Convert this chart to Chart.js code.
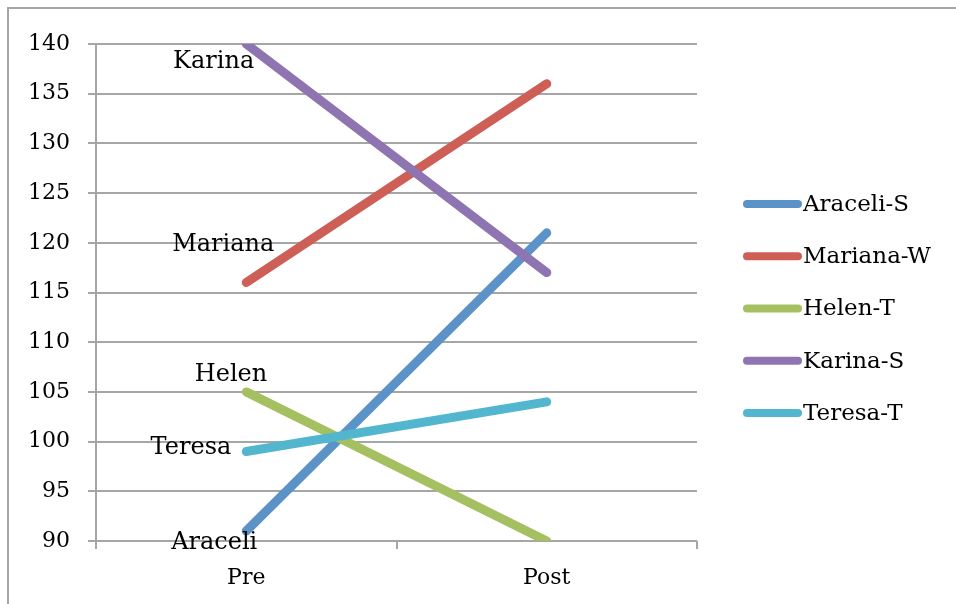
<!DOCTYPE html>
<html>
<head>
<meta charset="utf-8">
<script src="https://cdn.jsdelivr.net/npm/chart.js@4"></script>
<style>
  html, body { margin: 0; padding: 0; background: #fff; }
  #wrap { width: 956px; height: 604px; position: relative; }
</style>
</head>
<body>
<div id="wrap"><canvas id="grafica"></canvas></div>
<script>
// datos
const categorias = ["Pre", "Post"];
const series = ["Araceli-S", "Mariana-W", "Helen-T", "Karina-S", "Teresa-T"];
const etiquetas = ["Araceli", "Mariana", "Helen", "Karina", "Teresa"];
const araceli = [91, 121];
const mariana = [116, 136];
const helen = [105, 90];
const karina = [140, 117];
const teresa = [99, 104];
const valores = [araceli, mariana, helen, karina, teresa];
const ticksY = [90, 95, 100, 105, 110, 115, 120, 125, 130, 135, 140];

const colores = ["#5b93c9", "#cd5f56", "#a5c060", "#8e74b0", "#52b6cf"];
// desplazamiento de cada etiqueta respecto al punto "Pre" (borde derecho, centro vertical)
const posEtiquetas = [[11, 12], [28, -38], [21, -17], [8, 18], [-15, -4]];

const fuente = "'DejaVu Serif', serif";
const gris = "#a6a6a6";

const pluginExtra = {
  id: "extra",
  beforeDraw(chart) {
    const ctx = chart.ctx;
    ctx.save();
    ctx.strokeStyle = gris;
    ctx.lineWidth = 2;
    ctx.beginPath();
    ctx.moveTo(8, 604);
    ctx.lineTo(8, 8);
    ctx.lineTo(956, 8);
    ctx.stroke();
    ctx.restore();
  },
  afterDraw(chart) {
    const ctx = chart.ctx;
    const area = chart.chartArea;
    ctx.save();
    ctx.fillStyle = "#000";
    ctx.textBaseline = "middle";

    // etiquetas junto al punto Pre
    ctx.font = "24px " + fuente;
    ctx.textAlign = "right";
    chart.data.datasets.forEach((ds, i) => {
      const p = chart.getDatasetMeta(i).data[0];
      ctx.fillText(etiquetas[i], p.x + posEtiquetas[i][0], p.y + posEtiquetas[i][1]);
    });

    // leyenda
    ctx.font = "23px " + fuente;
    ctx.textAlign = "left";
    const x0 = area.right + 46;
    const yCentro = (area.top + area.bottom) / 2 + 16;
    const paso = 52.2;
    const y0 = yCentro - paso * (series.length - 1) / 2;
    series.forEach((nombre, i) => {
      const y = y0 + i * paso;
      ctx.strokeStyle = colores[i];
      ctx.lineWidth = 8;
      ctx.lineCap = "round";
      ctx.beginPath();
      ctx.moveTo(x0 + 4, y);
      ctx.lineTo(x0 + 55, y);
      ctx.stroke();
      ctx.fillText(nombre, x0 + 60, y + 1);
    });
    ctx.restore();
  }
};

new Chart(document.getElementById("grafica"), {
  type: "line",
  data: {
    labels: categorias,
    datasets: series.map((nombre, i) => ({
      label: nombre,
      data: valores[i],
      borderColor: colores[i],
      backgroundColor: colores[i],
      borderWidth: 9,
      borderCapStyle: "round",
      pointRadius: 0,
      tension: 0,
      clip: 0,
      order: series.length - i
    }))
  },
  options: {
    responsive: true,
    maintainAspectRatio: false,
    animation: false,
    layout: { padding: { left: 0, right: 259, top: 44, bottom: 0 } },
    plugins: {
      legend: { display: false },
      tooltip: { enabled: false }
    },
    scales: {
      x: {
        offset: true,
        grid: {
          offset: true,
          drawOnChartArea: false,
          drawTicks: true,
          tickLength: 8,
          color: gris,
          lineWidth: 2
        },
        border: { display: false },
        ticks: {
          color: "#000",
          font: { family: fuente, size: 22 },
          padding: 16
        },
        afterFit: s => { s.height = 63; }
      },
      y: {
        min: 90,
        max: 140,
        afterBuildTicks: s => { s.ticks = ticksY.map(v => ({ value: v })); },
        grid: {
          color: gris,
          lineWidth: 2,
          tickLength: 8
        },
        border: { display: true, color: gris, width: 2 },
        ticks: {
          color: "#000",
          font: { family: fuente, size: 22 },
          padding: 18
        },
        afterFit: s => { s.width = 96; }
      }
    }
  },
  plugins: [pluginExtra]
});
</script>
</body>
</html>
